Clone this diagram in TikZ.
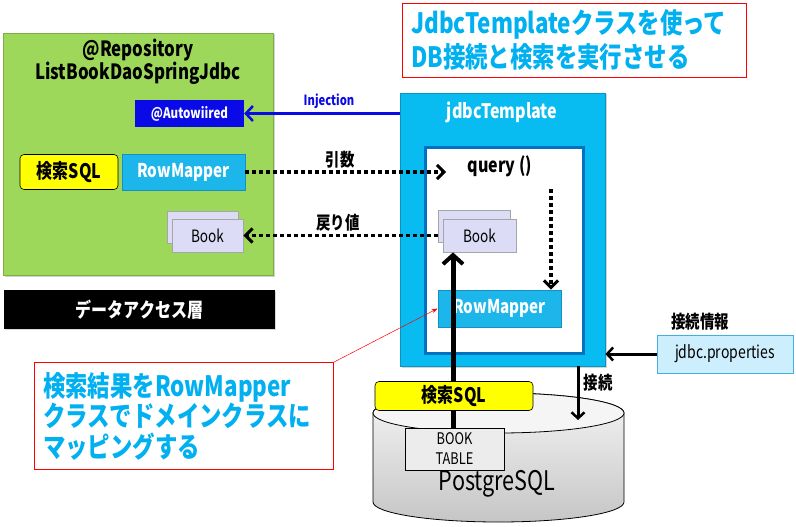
\documentclass[tikz,border=0pt]{standalone}
\usepackage{fontspec}
\setmainfont{Noto Sans CJK JP}[FakeStretch=0.8]
\usetikzlibrary{arrows.meta,shadows}
\definecolor{grn}{HTML}{9DD85A}
\definecolor{cyn}{HTML}{08BCF2}
\definecolor{cyntxt}{HTML}{00B0F0}
\definecolor{rmfill}{HTML}{1CB6EA}
\definecolor{rmdraw}{HTML}{1590C0}
\definecolor{inb}{HTML}{0070C0}
\definecolor{bookf}{HTML}{DCDCF7}
\definecolor{autob}{HTML}{0A0AE6}
\definecolor{propf}{HTML}{CDEEFC}
\definecolor{propd}{HTML}{45AEE0}
\definecolor{yel}{HTML}{FFFF00}
\begin{document}
\begin{tikzpicture}[x=1pt,y=-1pt,
  every node/.style={inner sep=0pt, font=\bfseries},
  green box/.style={fill=grn, draw=grn!80!black, line width=0.8pt, drop shadow={opacity=0.35,shadow xshift=1.5pt,shadow yshift=-1.5pt}},
  rowbox/.style={fill=rmfill, draw=rmdraw, line width=0.8pt, text=white, font=\bfseries\fontsize{19}{19}\selectfont, drop shadow={opacity=0.3,shadow xshift=1pt,shadow yshift=-1pt}},
  bookbox/.style={fill=bookf, draw=gray!70, line width=0.8pt, font=\fontsize{17}{17}\selectfont, drop shadow={opacity=0.3,shadow xshift=1pt,shadow yshift=-1pt}},
  sqlbox/.style={fill=yel, draw=black, line width=0.6pt, rounded corners=4pt, font=\bfseries\fontsize{20}{20}\selectfont},
  lbl/.style={font=\bfseries\fontsize{18}{18}\selectfont},
  dotarrow/.style={line width=3.5pt, dash pattern=on 3.5pt off 3.5pt, -{Straight Barb[length=7pt,width=14pt,line width=3pt]}},
  thickarrow/.style={line width=5pt, -{Straight Barb[length=9pt,width=20pt,line width=4pt]}},
  blkarrow/.style={line width=3pt, -{Straight Barb[length=6pt,width=13pt,line width=2.5pt]}},
  callout/.style={draw=red, line width=0.8pt, fill=white},
  ctext/.style={text=cyntxt, align=left, font=\bfseries\fontsize{28}{30.5}\selectfont}
]
\useasboundingbox (0,0) rectangle (796,527);

% left repository box
\node[green box, minimum width=270pt, minimum height=242pt] (repo) at (138,154) {};
\node[font=\bfseries\fontsize{21}{21}\selectfont] (reptitle) at (138,50) {@Repository};
\node[font=\bfseries\fontsize{21}{21}\selectfont] (repname) at (138,73) {ListBookDaoSpringJdbc};
\node[fill=autob, text=white, minimum width=109pt, minimum height=27pt, font=\bfseries\fontsize{14.5}{14.5}\selectfont] (auto) at (189.5,113.5) {@Autowiired};
\node[sqlbox, minimum width=98pt, minimum height=35pt] (sqlL) at (69,172) {検索SQL};
\node[rowbox, minimum width=123pt, minimum height=36pt] (rowL) at (183.5,172) {RowMapper};
\node[bookbox, minimum width=71pt, minimum height=32pt] (bookLb) at (202.5,227) {};
\node[bookbox, minimum width=71pt, minimum height=33pt] (bookL) at (207.5,235.5) {Book};

% layer label
\node[fill=black, text=white, minimum width=271pt, minimum height=39pt, font=\bfseries\fontsize{20}{20}\selectfont, drop shadow={opacity=0.3,shadow xshift=1pt,shadow yshift=-1pt}] (layer) at (139.5,309.5) {データアクセス層};

% title callout
\node[callout, minimum width=344pt, minimum height=74pt] (titlebox) at (574,40) {};
\node[ctext, font=\bfseries\fontsize{28}{34}\selectfont, anchor=west] (titletext) at (411,40) {JdbcTemplateクラスを使って\\DB接続と検索を実行させる};

% jdbcTemplate box
\node[fill=cyn, draw=cyn!80!black, line width=0.8pt, minimum width=205pt, minimum height=273pt, drop shadow={opacity=0.35,shadow xshift=1.5pt,shadow yshift=-1.5pt}] (jt) at (502.5,229.5) {};
\node[text=white, font=\bfseries\fontsize{20}{20}\selectfont] (jttitle) at (502,112) {jdbcTemplate};
\node[fill=white, draw=inb, line width=3pt, minimum width=158pt, minimum height=206pt] (inner) at (504,250) {};
\node[font=\bfseries\fontsize{20}{20}\selectfont] (query) at (500,166) {query ()};
\node[bookbox, minimum width=72pt, minimum height=32pt] (bookRb) at (474,226) {};
\node[bookbox, minimum width=73pt, minimum height=33pt] (bookR) at (479.5,235.5) {Book};
\node[rowbox, minimum width=123pt, minimum height=37pt] (rowR) at (499.5,308.5) {RowMapper};
\coordinate (qin) at (446,172);
\coordinate (qdown) at (551,189);

% properties
\node[fill=propf, draw=propd, line width=0.8pt, minimum width=136pt, minimum height=38pt, font=\fontsize{17.5}{17.5}\selectfont] (prop) at (725,354) {jdbc.properties};
\node[lbl] (propl) at (700,322) {接続情報};

% database cylinder
\shade[top color=gray!8, bottom color=gray!45, draw=black, line width=0.8pt]
  (373,413) -- (373,502) arc[start angle=180,end angle=360,x radius=125.5pt,y radius=20pt]
  -- (624,413) arc[start angle=0,end angle=180,x radius=125.5pt,y radius=20pt] -- cycle;
\draw[line width=0.8pt, fill=gray!8] (498.5,413) ellipse [x radius=125.5pt, y radius=20pt];
\node[font=\fontsize{27}{27}\selectfont] (pg) at (497,484) {PostgreSQL};
\coordinate (dbtop) at (578,420);

% connectors
\draw[thickarrow] (453,430) -- (bookR.south -| 453,0);
\node[fill=gray!15, draw=black, line width=0.6pt, minimum width=99pt, minimum height=42pt, align=center, font=\fontsize{16}{20}\selectfont] (table) at (454.5,449) {BOOK\\TABLE};
\node[sqlbox, minimum width=158pt, minimum height=29pt] (sqlR) at (454,396) {検索SQL};

\draw[autob, line width=3pt, -{Straight Barb[length=7pt,width=15pt,line width=2.5pt]}] (jt.west |- auto) -- (auto.east);
\node[text=autob, font=\bfseries\fontsize{14}{14}\selectfont] (inj) at (329,101) {Injection};

\draw[dotarrow] (rowL.east) -- (qin);
\node[lbl] (argl) at (340,160) {引数};
\coordinate (bstart) at (bookRb.west |- bookL.east);
\draw[dotarrow] (bstart) -- (bookL.east);
\node[lbl] (retl) at (338,223) {戻り値};
\draw[dotarrow] (qdown) -- (qdown |- rowR.north);

\draw[blkarrow] (prop.west) -- (jt.east |- prop.west);
\draw[blkarrow] (jt.south -| dbtop) -- (dbtop);
\node[lbl] (conn) at (598,383) {接続};

% bottom callout
\node[callout, minimum width=299pt, minimum height=107pt] (cbox) at (184,416) {};
\node[ctext, anchor=west] (ctxt) at (43,416) {検索結果をRowMapper\\クラスでドメインクラスに\\マッピングする};
\draw[red, line width=0.5pt, -{Stealth[length=6pt,width=4pt]}] (cbox.north east) -- (rowR.west);
\end{tikzpicture}
\end{document}
